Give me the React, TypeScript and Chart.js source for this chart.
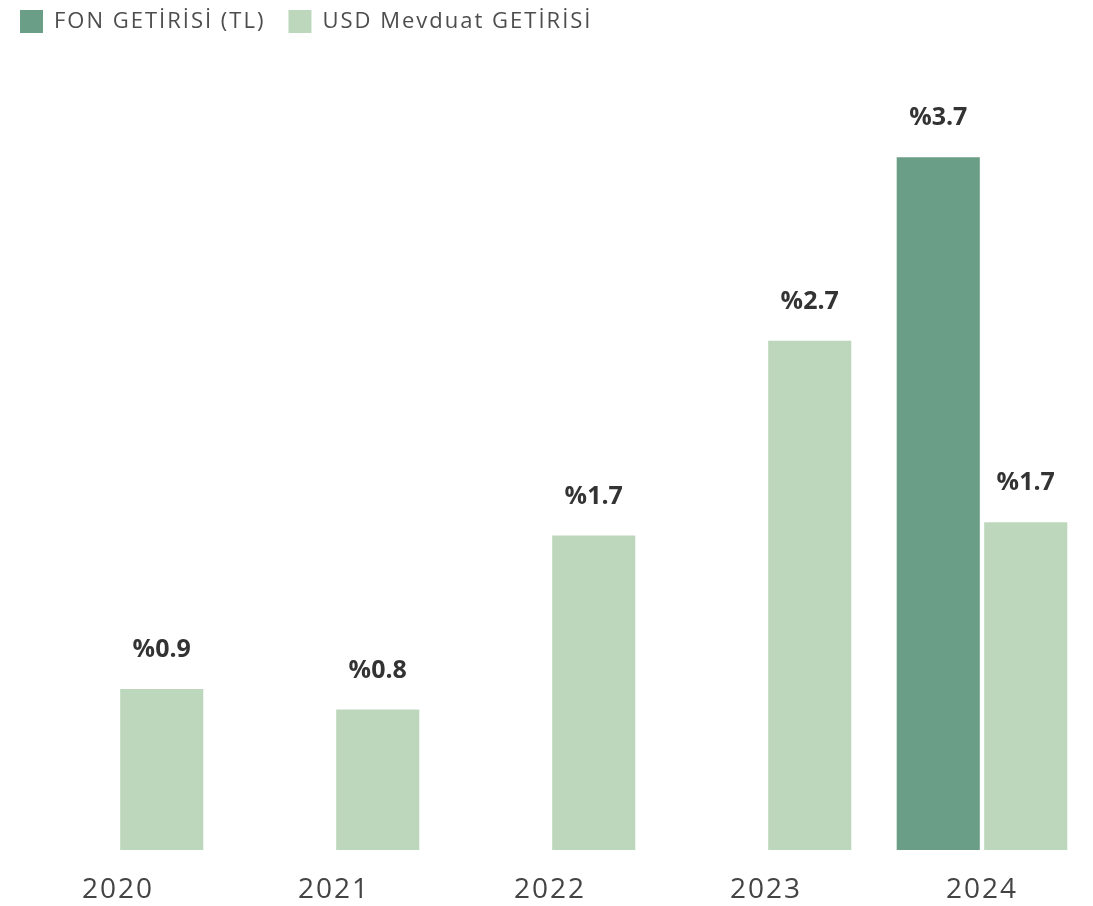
import React, { useEffect, useRef } from "react";
import { Chart, registerables } from "chart.js";

Chart.register(...registerables);

const categories = ["2020", "2021", "2022", "2023", "2024"];
const fonValues: (number | null)[] = [null, null, null, null, 3.7];
const usdValues: (number | null)[] = [0.86, 0.75, 1.68, 2.72, 1.75];
const fonLabels = ["", "", "", "", "%3.7"];
const usdLabels = ["%0.9", "%0.8", "%1.7", "%2.7", "%1.7"];
const seriesNames = ["FON GETİRİSİ (TL)", "USD Mevduat GETİRİSİ"];

const FONT = "'Open Sans', 'DejaVu Sans', sans-serif";

const spacingPlugin = {
  id: "spacing",
  beforeUpdate(chart: any) {
    chart.ctx.letterSpacing = "2px";
  },
  beforeDraw(chart: any) {
    chart.ctx.letterSpacing = "2px";
  },
};

const labelPlugin = {
  id: "barLabels",
  afterDatasetsDraw(chart: any) {
    const ctx = chart.ctx;
    const all = [fonLabels, usdLabels];
    ctx.save();
    ctx.letterSpacing = "0px";
    ctx.font = `bold 25px ${FONT}`;
    ctx.fillStyle = "#333333";
    ctx.textAlign = "center";
    ctx.textBaseline = "middle";
    chart.data.datasets.forEach((ds: any, di: number) => {
      const meta = chart.getDatasetMeta(di);
      meta.data.forEach((bar: any, i: number) => {
        const v = ds.data[i];
        if (v === null || v === undefined) return;
        const txt = all[di][i];
        if (!txt) return;
        ctx.fillText(txt, bar.x, bar.y - 39);
      });
    });
    ctx.restore();
  },
};

export default function App() {
  const ref = useRef<HTMLCanvasElement | null>(null);
  useEffect(() => {
    document.body.style.margin = "0";
    const chart = new Chart(ref.current as HTMLCanvasElement, {
      type: "bar",
      data: {
        labels: categories,
        datasets: [
          {
            label: seriesNames[0],
            data: fonValues,
            backgroundColor: "#6a9e87",
            categoryPercentage: 0.81,
            barPercentage: 0.95,
          },
          {
            label: seriesNames[1],
            data: usdValues,
            backgroundColor: "#bdd7bd",
            categoryPercentage: 0.81,
            barPercentage: 0.95,
          },
        ],
      },
      options: {
        animation: false,
        responsive: false,
        maintainAspectRatio: false,
        layout: { padding: { left: 10, right: 3, top: 0, bottom: 0 } },
        plugins: {
          legend: {
            position: "top",
            align: "start",
            labels: {
              boxWidth: 23,
              boxHeight: 23,
              color: "#4d4d4d",
              font: { family: FONT, size: 22 },
              padding: 10,
              generateLabels(chart: any) {
                const items = Chart.defaults.plugins.legend.labels.generateLabels(chart);
                items.forEach((it: any) => {
                  it.text = it.text + "\u2002";
                });
                return items;
              },
            },
          },
          tooltip: { enabled: false },
        },
        scales: {
          x: {
            offset: true,
            grid: { display: false, drawTicks: false },
            border: { display: false },
            afterFit(scale: any) {
              scale.height = 56;
            },
            ticks: {
              color: "#444444",
              font: { family: FONT, size: 28 },
              padding: 23,
            },
          },
          y: {
            display: false,
            min: 0,
            max: 4.31,
          },
        },
      },
      plugins: [spacingPlugin, labelPlugin],
    });
    return () => chart.destroy();
  }, []);
  return (
    <div style={{ position: "absolute", left: 0, top: 0, width: 1093, height: 906 }}>
      <canvas ref={ref} width={1093} height={906} style={{ width: 1093, height: 906 }} />
    </div>
  );
}
